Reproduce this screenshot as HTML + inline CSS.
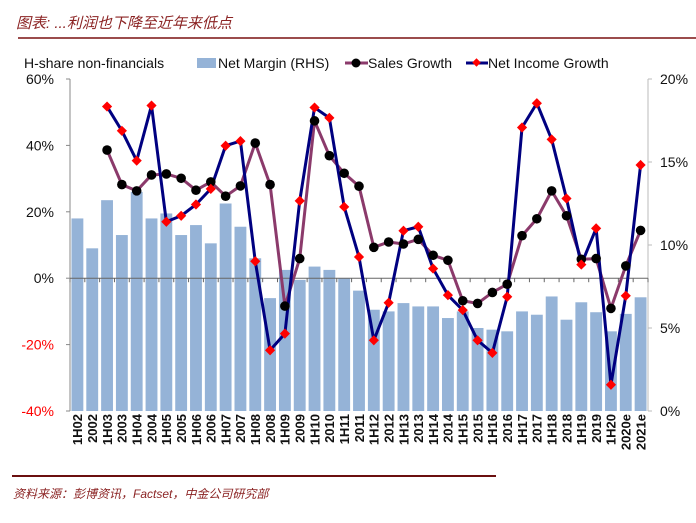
<!DOCTYPE html>
<html><head><meta charset="utf-8"><style>
body{margin:0;background:#fff;width:696px;height:518px;overflow:hidden;font-family:"Liberation Sans","Noto Sans CJK SC",sans-serif}
</style></head><body>
<svg id="c" width="696" height="518" xmlns="http://www.w3.org/2000/svg">
<text x="16" y="28" font-size="15" font-style="italic" fill="#8b2323" font-family="Liberation Sans, Noto Sans CJK SC, sans-serif">图表: ...利润也下降至近年来低点</text>
<line x1="18" y1="38" x2="696" y2="38" stroke="#7a1010" stroke-width="1.5"/>
<line x1="12" y1="476" x2="496" y2="476" stroke="#6b0f0f" stroke-width="2"/>
<text x="13" y="498" font-size="12" font-style="italic" fill="#8b2323" font-family="Liberation Sans, Noto Sans CJK SC, sans-serif">资料来源：彭博资讯，Factset，中金公司研究部</text>
<text x="24" y="68" font-size="14" fill="#111">H-share non-financials</text>
<rect x="197" y="58" width="19" height="10" fill="#95b3d7"/>
<text x="218" y="68" font-size="14" fill="#111">Net Margin (RHS)</text>
<line x1="345" y1="63" x2="368" y2="63" stroke="#8b3a6b" stroke-width="3"/>
<circle cx="356" cy="63" r="4.5" fill="#000"/>
<text x="368" y="68" font-size="14" fill="#111">Sales Growth</text>
<line x1="466" y1="63" x2="488" y2="63" stroke="#000080" stroke-width="3"/>
<rect x="473.5" y="59.5" width="6" height="6" fill="#ff0000" transform="rotate(45 476.5 62.5)"/>
<text x="488" y="68" font-size="14" fill="#111">Net Income Growth</text>
<g id="plot"></g>
</svg>
<script>
const categories=["1H02","2002","1H03","2003","1H04","2004","1H05","2005","1H06","2006","1H07","2007","1H08","2008","1H09","2009","1H10","2010","1H11","2011","1H12","2012","1H13","2013","1H14","2014","1H15","2015","1H16","2016","1H17","2017","1H18","2018","1H19","2019","1H20","2020e","2021e"];
const netMargin=[11.6,9.8,12.7,10.6,13.2,11.6,11.9,10.6,11.2,10.1,12.5,11.1,9.2,6.8,8.5,7.9,8.7,8.5,8.0,7.25,6.1,6.0,6.5,6.3,6.3,5.6,6.0,5.0,4.9,4.8,6.0,5.8,6.9,5.5,6.55,5.95,4.8,5.85,6.85];
const salesGrowth=[null,null,38.6,28.2,26.3,31.1,31.4,30.1,26.5,29.0,24.7,27.8,40.7,28.2,-8.4,5.9,47.4,36.9,31.6,27.7,9.3,10.9,10.3,11.7,6.9,5.4,-6.8,-7.6,-4.3,-1.8,12.8,17.9,26.3,18.8,5.7,5.9,-9.1,3.7,14.4];
const niGrowth=[null,null,51.7,44.4,35.4,52.0,17.0,18.8,22.2,26.9,39.9,41.3,5.1,-21.7,-16.7,23.3,51.4,48.3,21.5,6.4,-18.7,-7.4,14.3,15.5,2.9,-5.1,-9.6,-18.7,-22.5,-5.6,45.4,52.7,41.8,24.0,4.1,15.0,-32.1,-5.3,34.1];
const leftTicks=["60%","40%","20%","0%","-20%","-40%"];
const leftTickVals=[60,40,20,0,-20,-40];
const rightTicks=["20%","15%","10%","5%","0%"];
const rightTickVals=[20,15,10,5,0];
const NS="http://www.w3.org/2000/svg";
const g=document.getElementById('plot');
const X0=70,X1=648,YT=79,YB=411;
const step=(X1-X0)/categories.length;
const xc=i=>X0+step*(i+0.5);
const yL=v=>YT+(60-v)/100*(YB-YT);
const yR=v=>YB-v/20*(YB-YT);
function mk(t,a){const e=document.createElementNS(NS,t);for(const k in a)e.setAttribute(k,a[k]);g.appendChild(e);return e;}
netMargin.forEach((v,i)=>{const r=mk('rect',{x:xc(i)-step*0.4,y:yR(v),width:step*0.8,height:YB-yR(v),fill:'#95b3d7'});

});
let a=mk('line',{x1:X0,y1:YT,x2:X0,y2:YB,stroke:'#888'});


a=mk('line',{x1:X1,y1:YT,x2:X1,y2:YB,stroke:'#bbb'});


a=mk('line',{x1:X0,y1:yL(0),x2:X1,y2:yL(0),stroke:'#666'});


for(let i=0;i<=categories.length;i++){mk('line',{x1:X0+step*i,y1:yL(0),x2:X0+step*i,y2:yL(0)+4,stroke:'#666'});}
leftTickVals.forEach((v,i)=>{mk('line',{x1:X0-4,y1:yL(v),x2:X0,y2:yL(v),stroke:'#888'});
const t=mk('text',{x:54,y:yL(v)+5,'text-anchor':'end','font-size':14,fill:v<0?'#ff0000':'#111'});t.textContent=leftTicks[i];

});
rightTickVals.forEach((v,i)=>{mk('line',{x1:X1,y1:yR(v),x2:X1+4,y2:yR(v),stroke:'#bbb'});
const t=mk('text',{x:660,y:yR(v)+5,'font-size':14,fill:'#111'});t.textContent=rightTicks[i];

});
categories.forEach((c,i)=>{const t=mk('text',{x:0,y:0,'font-size':13,'font-weight':'bold',fill:'#111',transform:`translate(${xc(i)+4.8},414) rotate(-90)`,'text-anchor':'end'});t.textContent=c;

});
function path(vals,col,name){let d='';vals.forEach((v,i)=>{if(v==null)return;d+=(d?'L':'M')+xc(i)+' '+yL(v);});
const p=mk('path',{d:d,fill:'none',stroke:col,'stroke-width':3,'stroke-linejoin':'round'});

}
path(salesGrowth,'#8b3a6b','sales-growth-line');
path(niGrowth,'#000080','net-income-growth-line');
salesGrowth.forEach((v,i)=>{if(v==null)return;const c=mk('circle',{cx:xc(i),cy:yL(v),r:4.8,fill:'#000'});

});
niGrowth.forEach((v,i)=>{if(v==null)return;const x=xc(i),y=yL(v);const c=mk('rect',{x:x-3.6,y:y-3.6,width:7.2,height:7.2,fill:'#ff0000',transform:`rotate(45 ${x} ${y})`});

});
</script>
</body></html>
